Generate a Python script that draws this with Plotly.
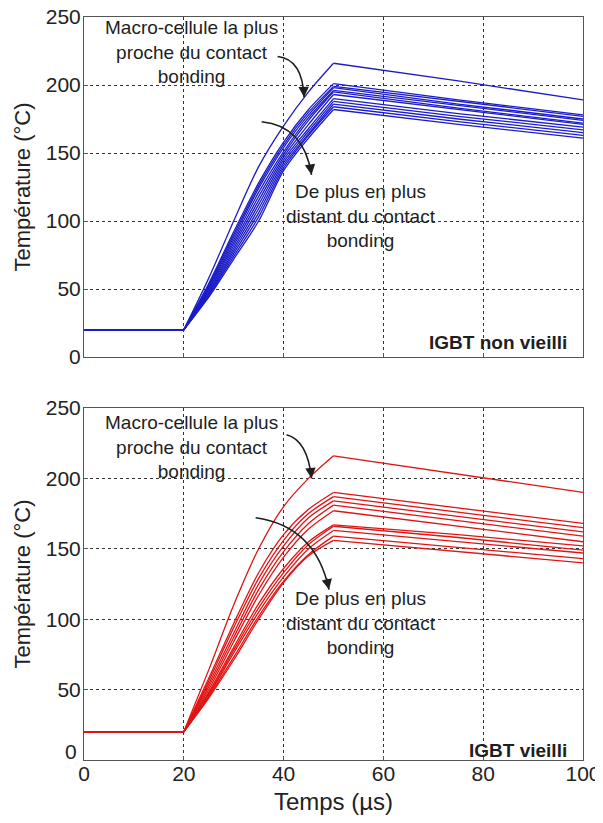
import plotly.graph_objects as go

# time samples (µs) shared by every curve
TIME = [0, 20, 25, 30, 35, 40, 45, 50, 75, 100]

# IGBT non vieilli -- first curve is the macro-cell closest to the bonding contact
BLUE_CURVES = [
    [20, 20, 58, 100, 140, 170, 195, 216, 203, 189],
    [20, 20, 54, 92, 128, 158, 182, 201, 189, 178],
    [20, 20, 53, 90, 126, 156, 180, 199, 188, 177],
    [20, 20, 52, 88, 124, 154, 178, 198, 186, 175],
    [20, 20, 51, 86, 121, 151, 176, 196, 185, 174],
    [20, 20, 50, 84, 118, 149, 174, 195, 183, 172],
    [20, 20, 49, 82, 115, 147, 171, 193, 182, 171],
    [20, 20, 48, 80, 112, 145, 168, 190, 179, 169],
    [20, 20, 47, 78, 109, 143, 166, 188, 177, 167],
    [20, 20, 46, 76, 106, 141, 164, 186, 175, 165],
    [20, 20, 45, 74, 103, 139, 163, 184, 173, 163],
    [20, 20, 44, 72, 100, 137, 161, 182, 171, 161],
]

# IGBT vieilli
RED_CURVES = [
    [20, 20, 64, 110, 150, 180, 200, 216, 203, 190],
    [20, 20, 58, 97, 133, 160, 178, 190, 179, 168],
    [20, 20, 56, 94, 129, 156, 175, 187, 176, 165],
    [20, 20, 54, 90, 125, 152, 172, 184, 173, 162],
    [20, 20, 52, 87, 121, 148, 168, 181, 170, 159],
    [20, 20, 50, 84, 117, 144, 164, 177, 166, 155],
    [20, 20, 48, 80, 111, 136, 155, 167, 160, 152],
    [20, 20, 47, 78, 108, 133, 153, 166, 158, 149],
    [20, 20, 46, 76, 105, 130, 150, 163, 155, 147],
    [20, 20, 45, 73, 102, 127, 146, 159, 151, 143],
    [20, 20, 44, 71, 100, 126, 145, 156, 148, 140],
]

X_TICKS = [0, 20, 40, 60, 80, 100]
Y_TICKS = [0, 50, 100, 150, 200, 250]

FONT = "Arial, 'Liberation Sans', sans-serif"
TXT = "#1e1e1e"
BLUE = "#1c1cc8"
RED = "#e01414"

RISE = slice(1, 8)    # 20..50 µs, smooth heating
DECAY = slice(7, 10)  # 50..100 µs, cooling

fig = go.Figure()


def add_curve(vals, color, xa, ya):
    # plateau and cooling are straight, the heating ramp is drawn smooth
    for sl, shape in ((slice(0, 2), "linear"), (RISE, "spline"), (DECAY, "linear")):
        fig.add_trace(go.Scatter(x=TIME[sl], y=vals[sl], mode="lines", xaxis=xa, yaxis=ya,
                                 line=dict(color=color, width=1.3, shape=shape, smoothing=0.8),
                                 showlegend=False, hoverinfo="skip"))


for vals in BLUE_CURVES:
    add_curve(vals, BLUE, "x", "y")
for vals in RED_CURVES:
    add_curve(vals, RED, "x2", "y2")

TICK_FONT = dict(family=FONT, size=21, color="#222")
_axis = dict(
    showline=True, mirror=True, linecolor="#555", linewidth=1,
    ticks="inside", ticklen=4, tickcolor="#555",
    showgrid=True, gridcolor="#333", griddash="dot", gridwidth=1,
    zeroline=False, automargin=False, ticklabeloverflow="allow",
    tickfont=TICK_FONT,
)
_ytitle = dict(text="Température (°C)", standoff=9,
               font=dict(family=FONT, size=22, color="#222"))

# the page body adds an 8px margin, so the figure is offset by it
fig.update_layout(
    width=595, height=807,
    margin=dict(l=76, r=20, t=9, b=55),
    paper_bgcolor="white", plot_bgcolor="white",
    font=dict(family=FONT, color=TXT),
    xaxis=dict(domain=[0, 1], anchor="y", range=[0, 100], tickvals=X_TICKS,
               showticklabels=False, **_axis),
    yaxis=dict(domain=[0.5424, 1], anchor="x", range=[0, 250], tickvals=Y_TICKS,
               ticklabelstandoff=-2, title=_ytitle, **_axis),
    xaxis2=dict(domain=[0, 1], anchor="y2", range=[0, 100], tickvals=X_TICKS,
                ticklabelstandoff=-5,
                title=dict(text="Temps (µs)", standoff=10,
                           font=dict(family=FONT, size=24, color="#222")),
                **_axis),
    # the 0 of the lower panel sits raised above the x labels, as in the source
    yaxis2=dict(domain=[0, 0.4738], anchor="x2", range=[0, 250], tickvals=Y_TICKS[1:],
                ticklabelstandoff=-2, title=_ytitle, **_axis),
)
fig.add_annotation(x=0, y=Y_TICKS[0], xref="paper", yref="y2", text=str(Y_TICKS[0]),
                   showarrow=False, xanchor="right", yanchor="middle",
                   xshift=-5, yshift=8, font=TICK_FONT)


def curved_arrow(xr, yr, p0, c, p1):
    # quadratic bezier body + arrowhead on the tangent at the tip
    fig.add_shape(type="path", xref=xr, yref=yr,
                  path=f"M {p0[0]},{p0[1]} Q {c[0]},{c[1]} {p1[0]},{p1[1]}",
                  line=dict(color=TXT, width=1.6))
    fig.add_annotation(x=p1[0], y=p1[1], ax=p1[0] - 0.2 * (p1[0] - c[0]),
                       ay=p1[1] - 0.2 * (p1[1] - c[1]),
                       xref=xr, yref=yr, axref=xr, ayref=yr, text="",
                       showarrow=True, arrowhead=2, arrowsize=1.3,
                       arrowwidth=1.6, arrowcolor=TXT)


def label(xr, yr, x, y, text, size=19, bold=False, xanchor="center"):
    fig.add_annotation(x=x, y=y, xref=xr, yref=yr, text=f"<b>{text}</b>" if bold else text,
                       showarrow=False, xanchor=xanchor, yanchor="middle", align="center",
                       font=dict(family=FONT, size=size, color=TXT))


NEAR = "Macro-cellule la plus<br>proche du contact<br>bonding"
FAR = "De plus en plus<br>distant du contact<br>bonding"

# top panel
label("x", "y", 21.6, 224, NEAR)
label("x", "y", 55.6, 104, FAR)
label("x", "y", 97.2, 11, "IGBT non vieilli", size=19, bold=True, xanchor="right")
curved_arrow("x", "y", (38.8, 221), (43.8, 219), (44.1, 191))
curved_arrow("x", "y", (35.6, 173), (44.1, 170), (45.6, 134))

# bottom panel
label("x2", "y2", 21.6, 222, NEAR)
label("x2", "y2", 55.6, 97, FAR)
label("x2", "y2", 97.2, 7, "IGBT vieilli", size=19, bold=True, xanchor="right")
curved_arrow("x2", "y2", (40.6, 231), (44.8, 227), (45.6, 200))
curved_arrow("x2", "y2", (34.4, 172), (46.4, 166), (49.1, 121))

fig.write_html("out.html")
